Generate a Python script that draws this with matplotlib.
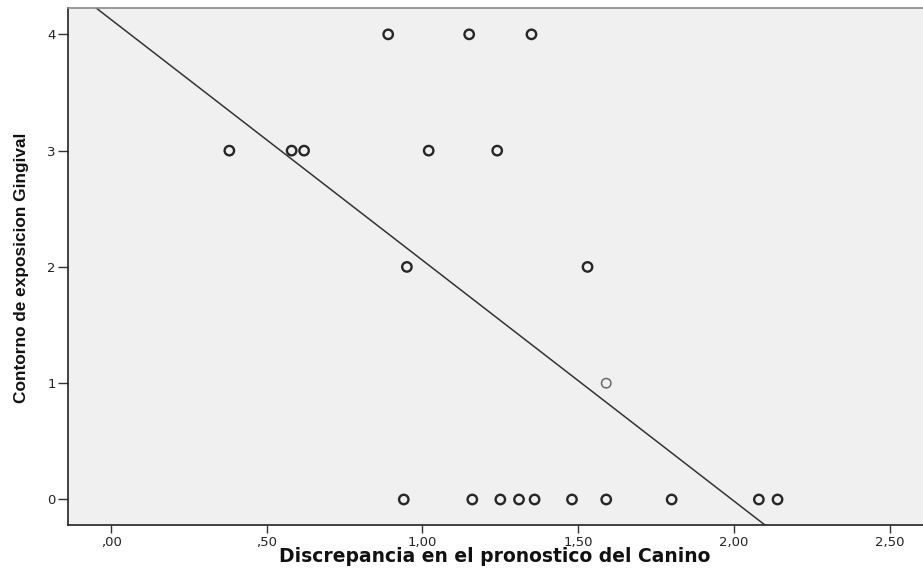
import numpy as np
import matplotlib
matplotlib.use("Agg")
import matplotlib.pyplot as plt
from matplotlib.ticker import FixedLocator, FuncFormatter

plt.rcParams["font.family"] = ["DejaVu Sans"]

# Discrepancy in canine prediction vs. gingival exposure contour
discrepancia = [0.89, 1.15, 1.35,
                0.38, 0.58, 0.62, 1.02, 1.24,
                0.95, 1.53,
                1.59,
                0.94, 1.16, 1.25, 1.31, 1.36, 1.48, 1.59, 1.80, 2.08, 2.14]
contorno = [4, 4, 4,
            3, 3, 3, 3, 3,
            2, 2,
            1,
            0, 0, 0, 0, 0, 0, 0, 0, 0, 0]

x_ticks = [0.0, 0.5, 1.0, 1.5, 2.0, 2.5]
y_ticks = [0, 1, 2, 3, 4]

x = np.array(discrepancia)
y = np.array(contorno)

W, H = 923, 579
fig = plt.figure(figsize=(W / 100, H / 100), dpi=100)
ax = fig.add_axes([68 / W, 1 - 525.3 / H, 1 - 68 / W, (525.3 - 8.3) / H])
ax.set_facecolor("#F0F0F0")

xlim = (-0.138, 2.607)
ylim = (-0.222, 4.224)
ax.set_xlim(*xlim)
ax.set_ylim(*ylim)

# least-squares fit line across the full x range
slope, intercept = np.polyfit(x, y, 1)
xs = np.array(xlim)
ax.plot(xs, slope * xs + intercept, color="#333333", lw=1.1, zorder=2)

edge = ["#6a6a6a" if v == 1 else "#262626" for v in y]
lws = [1.1 if v == 1 else 1.7 for v in y]
ax.scatter(x, y, s=46, facecolors="none", edgecolors=edge, linewidths=lws, zorder=3)


def fmt_x(v, pos):
    s = f"{v:.2f}".replace(".", ",")
    return s[1:] if s.startswith("0") else s


ax.xaxis.set_major_locator(FixedLocator(x_ticks))
ax.yaxis.set_major_locator(FixedLocator(y_ticks))
ax.xaxis.set_major_formatter(FuncFormatter(fmt_x))
ax.yaxis.set_major_formatter(FuncFormatter(lambda v, p: f"{int(v)}"))
ax.tick_params(direction="out", width=1, color="#333333",
               labelsize=9.5, labelcolor="#222222")
ax.tick_params(axis="x", length=5.8, pad=2)
ax.tick_params(axis="y", length=7.2, pad=1.5)

for side in ("left", "bottom"):
    ax.spines[side].set_color("#222222")
    ax.spines[side].set_linewidth(1.2)
ax.spines["top"].set_color("#8a8a8a")
ax.spines["top"].set_linewidth(1.2)
ax.spines["right"].set_visible(False)

fig.text(495 / W, 1 - 557 / H, "Discrepancia en el pronostico del Canino",
         fontsize=13.5, fontweight="bold", color="#111111", ha="center", va="center")
fig.text(22 / W, 1 - 267.5 / H, "Contorno de exposicion Gingival",
         family=["Liberation Sans", "DejaVu Sans"], fontsize=12.4,
         fontweight="bold", color="#111111", ha="center", va="center", rotation=90)

fig.savefig("out.png", dpi=100, facecolor="white")
